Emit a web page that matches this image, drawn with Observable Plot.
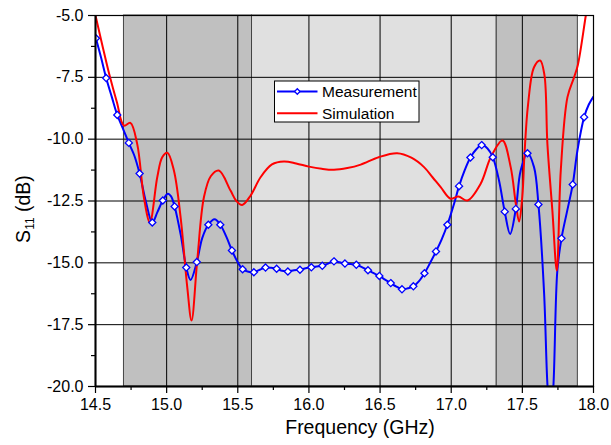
<!DOCTYPE html>
<html><head><meta charset="utf-8">
<script src="https://cdn.jsdelivr.net/npm/d3@7"></script>
<script src="https://cdn.jsdelivr.net/npm/@observablehq/plot@0.6"></script>
<style>body{margin:0;background:#fff} #chart{position:relative;width:611px;height:445px}</style>
</head><body><div id="chart"></div>
<script>
// Shaded frequency bands
const bandStart = [14.7, 15.6, 17.32];
const bandEnd   = [15.6, 17.32, 17.89];
const bandFill  = ["#c0c0c0", "#e0e0e0", "#c0c0c0"];

// Tick values
const xMajor = [14.5, 15.0, 15.5, 16.0, 16.5, 17.0, 17.5, 18.0];
const xMinor = [14.75, 15.25, 15.75, 16.25, 16.75, 17.25, 17.75];
const yMajor = [-5.0, -7.5, -10.0, -12.5, -15.0, -17.5, -20.0];
const yMinor = [-6.25, -8.75, -11.25, -13.75, -16.25, -18.75];
const xGrid = [15.0, 15.5, 16.0, 16.5, 17.0, 17.5];
const yGrid = [-7.5, -10.0, -12.5, -15.0, -17.5];

// Simulation (red)
const simFreq = [14.500,14.550,14.600,14.650,14.700,14.745,14.793,14.840,14.882,14.934,14.969,15.005,15.051,15.098,15.145,15.175,15.215,15.262,15.310,15.367,15.449,15.490,15.531,15.590,15.660,15.740,15.824,15.910,16.000,16.090,16.176,16.270,16.364,16.490,16.620,16.720,16.809,16.870,16.926,16.996,17.050,17.114,17.207,17.278,17.360,17.418,17.454,17.477,17.500,17.515,17.540,17.582,17.625,17.655,17.676,17.711,17.742,17.770,17.817,17.864,17.890,17.946,17.980];
const simS11  = [-5.0,-6.25,-7.45,-8.5,-9.45,-9.34,-10.19,-12.35,-13.37,-11.54,-10.73,-10.55,-11.27,-13.15,-15.99,-17.33,-14.9,-12.35,-11.5,-11.27,-12.08,-12.5,-12.66,-12.28,-11.54,-11.02,-10.90,-10.98,-11.11,-11.2,-11.24,-11.17,-11.03,-10.73,-10.57,-10.75,-11.13,-11.55,-11.94,-12.41,-12.32,-12.48,-11.8,-10.73,-10.05,-11.13,-12.61,-13.33,-12.3,-10.6,-8.6,-7.09,-6.82,-7.4,-10.19,-12.89,-15.31,-11.27,-8.30,-7.49,-7.0,-5.0,-3.8];

// Measurement (blue) line
const measFreq = [14.503,14.540,14.575,14.615,14.653,14.695,14.734,14.772,14.810,14.855,14.899,14.935,14.973,15.008,15.030,15.056,15.100,15.138,15.168,15.212,15.250,15.293,15.337,15.377,15.420,15.459,15.500,15.534,15.575,15.613,15.655,15.695,15.735,15.773,15.812,15.852,15.895,15.937,15.977,16.017,16.055,16.094,16.135,16.176,16.215,16.253,16.293,16.333,16.375,16.415,16.455,16.495,16.535,16.575,16.615,16.654,16.695,16.734,16.772,16.812,16.852,16.893,16.933,16.973,17.020,17.055,17.095,17.135,17.175,17.214,17.255,17.292,17.336,17.376,17.414,17.454,17.488,17.536,17.582,17.613,17.653,17.676,17.697,17.718,17.746,17.775,17.815,17.854,17.887,17.934,17.967,18.000];
const measS11  = [-5.92,-6.72,-7.53,-8.3,-9.02,-9.6,-10.15,-10.65,-11.39,-12.55,-13.37,-12.95,-12.48,-12.21,-12.3,-12.72,-13.9,-15.19,-15.69,-14.97,-14.0,-13.46,-13.24,-13.46,-13.95,-14.50,-14.98,-15.26,-15.36,-15.38,-15.28,-15.19,-15.2,-15.24,-15.32,-15.35,-15.3,-15.28,-15.22,-15.18,-15.15,-15.12,-15.03,-14.94,-14.98,-15.03,-15.05,-15.08,-15.18,-15.30,-15.42,-15.53,-15.68,-15.82,-15.96,-16.07,-16.03,-15.95,-15.75,-15.42,-15.0,-14.54,-14.05,-13.46,-12.61,-11.90,-11.25,-10.74,-10.42,-10.24,-10.38,-10.73,-11.67,-12.93,-13.83,-12.82,-11.27,-10.57,-11.13,-12.64,-16.25,-19.9,-21.5,-20.0,-15.3,-14.01,-12.9,-11.83,-10.46,-9.11,-8.6,-8.28];

// Measurement markers
const markFreq = [14.503,14.575,14.653,14.734,14.810,14.899,14.973,15.056,15.138,15.212,15.293,15.377,15.459,15.534,15.613,15.695,15.773,15.852,15.937,16.017,16.094,16.176,16.253,16.333,16.415,16.495,16.575,16.654,16.734,16.812,16.893,16.973,17.055,17.135,17.214,17.292,17.376,17.454,17.536,17.613,17.775,17.854,17.934];
const markS11  = [-5.92,-7.53,-9.02,-10.15,-11.39,-13.37,-12.48,-12.72,-15.19,-14.97,-13.46,-13.46,-14.50,-15.26,-15.38,-15.19,-15.24,-15.35,-15.28,-15.18,-15.12,-14.94,-15.03,-15.08,-15.30,-15.53,-15.82,-16.07,-15.95,-15.42,-14.54,-13.46,-11.90,-10.74,-10.24,-10.73,-12.93,-12.82,-10.57,-12.64,-14.01,-11.83,-9.11];

const legendLabels = ["Measurement", "Simulation"];
const legendColors = ["#0000ff", "#ff0000"];

const bands = bandStart.map((s, i) => ({s, e: bandEnd[i], f: bandFill[i]}));
const sim = simFreq.map((f, i) => ({f, v: simS11[i]}));
const meas = measFreq.map((f, i) => ({f, v: measS11[i]}));
const marks = markFreq.map((f, i) => ({f, v: markS11[i]}));

const FONT = "'Liberation Sans', Arial, sans-serif";
const fmt = d => d.toFixed(1);

const chart = Plot.plot({
  width: 611, height: 445,
  marginLeft: 95, marginRight: 18, marginTop: 15, marginBottom: 59,
  style: {fontFamily: FONT, fontSize: "16px", color: "#000", background: "#fff"},
  x: {domain: [14.5, 18.0]},
  y: {domain: [-20, -5]},
  color: {type: "identity"},
  marks: [
    Plot.rect(bands, {x1: "s", x2: "e", fill: "f", stroke: "#444", strokeWidth: 1}),
    Plot.ruleX(xGrid, {stroke: "#000", strokeWidth: 1}),
    Plot.ruleY(yGrid, {stroke: "#000", strokeWidth: 1}),
    Plot.line(meas, {x: "f", y: "v", stroke: "#0000ff", strokeWidth: 2, curve: "catmull-rom", clip: true}),
    Plot.line(sim, {x: "f", y: "v", stroke: "#ff0000", strokeWidth: 2, curve: "catmull-rom", clip: true}),
    Plot.dot(marks, {x: "f", y: "v", symbol: "diamond2", r: 3.2, fill: "#fff", stroke: "#0000ff", strokeWidth: 1.3, clip: true}),
    Plot.frame({stroke: "#000", strokeWidth: 1.2}),
    Plot.ruleX([14.5], {stroke: "#000", strokeWidth: 2}),
    Plot.ruleY([-20], {stroke: "#000", strokeWidth: 2}),
    Plot.axisX(xMajor, {tickSize: 7, tickPadding: 5, tickFormat: fmt, label: null, fontSize: 16, stroke: "#000", strokeWidth: 1.2}),
    Plot.axisX(xMinor, {tickSize: 4, text: null, label: null, stroke: "#000", strokeWidth: 1.2}),
    Plot.axisY(yMajor, {tickSize: 7, tickPadding: 5, tickFormat: fmt, label: null, fontSize: 16, stroke: "#000", strokeWidth: 1.2}),
    Plot.axisY(yMinor, {tickSize: 4, text: null, label: null, stroke: "#000", strokeWidth: 1.2})
  ]
});
document.getElementById("chart").appendChild(chart);

const svg = d3.select(chart);
// Axis titles
svg.append("text").attr("x", 360).attr("y", 434).attr("text-anchor", "middle")
  .attr("font-family", FONT).attr("font-size", 19.5).attr("fill", "#000").text("Frequency (GHz)");
const yl = svg.append("text").attr("transform", "translate(29.5,209) rotate(-90)").attr("text-anchor", "middle")
  .attr("font-family", FONT).attr("font-size", 19.5).attr("fill", "#000");
yl.append("tspan").text("S");
yl.append("tspan").attr("font-size", 12).attr("dy", 4).text("11");
yl.append("tspan").attr("dy", -4).text(" (dB)");

// Legend
const lg = svg.append("g").attr("text-anchor", "start");
lg.append("rect").attr("x", 274.5).attr("y", 81).attr("width", 144.5).attr("height", 41)
  .attr("fill", "#fff").attr("stroke", "#000").attr("stroke-width", 1);
legendLabels.forEach((lab, i) => {
  const cy = 91.5 + i * 21.8;
  lg.append("line").attr("x1", 277).attr("x2", 317.5).attr("y1", cy).attr("y2", cy)
    .attr("stroke", legendColors[i]).attr("stroke-width", 2);
  if (i === 0) {
    lg.append("path").attr("d", d3.symbol(d3.symbolSquare, 15)())
      .attr("transform", `translate(297.3,${cy}) rotate(45)`)
      .attr("fill", "#fff").attr("stroke", legendColors[i]).attr("stroke-width", 1.3);
  }
  lg.append("text").attr("x", 322).attr("y", cy + 5.5).attr("text-anchor", "start").attr("font-family", FONT)
    .attr("font-size", 15.5).attr("fill", "#000").text(lab);
});
</script>
</body></html>
